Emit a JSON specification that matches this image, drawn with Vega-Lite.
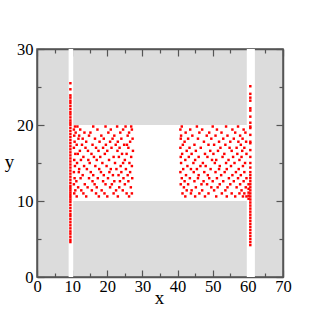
{
  "$schema": "https://vega.github.io/schema/vega-lite/v6.json",
  "width": 246,
  "height": 228,
  "autosize": "none",
  "padding": {"left": 37, "top": 49, "right": 35, "bottom": 49},
  "background": "white",
  "config": {
    "view": {"fill": "#dcdcdc", "stroke": "#555555", "strokeWidth": 1.5},
    "axis": {"labelFont": "Liberation Serif", "labelFontSize": 16.5, "titleFont": "Liberation Serif", "titleFontSize": 19, "titleFontWeight": "normal", "domainColor": "#555555", "domainWidth": 1.5, "tickColor": "#555555", "tickWidth": 1.2, "grid": false, "labelColor": "black", "titleColor": "black"}
  },
  "datasets": {
    "bg": [
      {"x1": 9, "x2": 10.3, "y1": 0, "y2": 30},
      {"x1": 59.7, "x2": 62, "y1": 0, "y2": 30},
      {"x1": 9, "x2": 59.7, "y1": 10, "y2": 20}
    ],
    "pts": [
      {"x":9.5,"y":4.6},{"x":9.5,"y":4.9},{"x":9.5,"y":5.3},{"x":9.5,"y":5.7},{"x":9.5,"y":6.0},{"x":9.5,"y":6.4},{"x":9.5,"y":6.8},{"x":9.5,"y":7.2},{"x":9.5,"y":7.6},{"x":9.5,"y":8.0},{"x":9.5,"y":8.3},{"x":9.5,"y":8.7},{"x":9.5,"y":9.1},{"x":9.5,"y":9.5},{"x":9.5,"y":9.9},{"x":9.5,"y":10.2},{"x":9.5,"y":10.5},{"x":9.5,"y":10.8},{"x":9.5,"y":11.1},{"x":9.5,"y":11.4},{"x":9.5,"y":11.7},{"x":9.5,"y":12.0},{"x":9.5,"y":12.4},{"x":9.5,"y":12.8},{"x":9.5,"y":13.2},{"x":9.5,"y":13.6},{"x":9.5,"y":14.0},{"x":9.5,"y":14.4},{"x":9.5,"y":14.8},{"x":9.5,"y":15.2},{"x":9.5,"y":15.6},{"x":9.5,"y":16.0},{"x":9.5,"y":16.4},{"x":9.5,"y":16.8},{"x":9.5,"y":17.2},{"x":9.5,"y":17.6},{"x":9.5,"y":18.0},{"x":9.5,"y":18.4},{"x":9.5,"y":18.8},{"x":9.5,"y":19.2},{"x":9.5,"y":19.6},{"x":9.5,"y":20.0},{"x":9.5,"y":20.3},{"x":9.5,"y":20.6},{"x":9.5,"y":21.0},{"x":9.5,"y":21.4},{"x":9.5,"y":21.7},{"x":9.5,"y":22.1},{"x":9.5,"y":22.5},{"x":9.5,"y":22.9},{"x":9.5,"y":23.2},{"x":9.5,"y":23.6},{"x":9.5,"y":23.9},{"x":9.5,"y":24.7},{"x":9.5,"y":25.5},
      {"x":60.7,"y":4.2},{"x":60.7,"y":4.6},{"x":60.7,"y":5.0},{"x":60.7,"y":5.4},{"x":60.7,"y":5.8},{"x":60.7,"y":6.2},{"x":60.7,"y":6.6},{"x":60.7,"y":7.0},{"x":60.7,"y":7.4},{"x":60.7,"y":7.8},{"x":60.7,"y":8.2},{"x":60.7,"y":8.6},{"x":60.7,"y":9.0},{"x":60.7,"y":9.4},{"x":60.7,"y":9.8},{"x":60.7,"y":10.2},{"x":60.7,"y":10.6},{"x":60.7,"y":11.0},{"x":60.7,"y":11.4},{"x":60.7,"y":11.8},{"x":60.7,"y":12.2},{"x":60.7,"y":12.6},{"x":60.7,"y":13.0},{"x":60.7,"y":13.4},{"x":60.7,"y":13.8},{"x":60.7,"y":14.4},{"x":60.7,"y":15.0},{"x":60.7,"y":15.8},{"x":60.7,"y":16.7},{"x":60.7,"y":17.6},{"x":60.7,"y":17.8},{"x":60.7,"y":18.7},{"x":60.7,"y":19.6},{"x":60.7,"y":19.8},{"x":60.7,"y":20.3},{"x":60.7,"y":21.1},{"x":60.7,"y":21.9},{"x":60.7,"y":22.2},{"x":60.7,"y":23.2},{"x":60.7,"y":23.6},{"x":60.7,"y":24.1},{"x":60.7,"y":25.1},
      {"x":60.2,"y":10.3},{"x":60.2,"y":10.7},{"x":60.2,"y":11.1},{"x":60.2,"y":11.6},{"x":60.2,"y":12.2},
      {"x":10.8,"y":19.8},{"x":11.5,"y":19.8},{"x":16.0,"y":19.8},{"x":19.5,"y":19.8},{"x":22.8,"y":19.8},{"x":25.2,"y":19.8},{"x":26.8,"y":19.8},
      {"x":10.5,"y":19.4},{"x":12.3,"y":19.4},{"x":17.2,"y":19.4},{"x":21.0,"y":19.4},{"x":24.5,"y":19.4},{"x":27.0,"y":19.4},
      {"x":11.0,"y":19.0},{"x":13.5,"y":19.0},{"x":15.2,"y":19.0},{"x":20.3,"y":19.0},{"x":23.7,"y":19.0},{"x":26.2,"y":19.0},
      {"x":10.6,"y":18.6},{"x":12.0,"y":18.6},{"x":14.8,"y":18.6},{"x":18.3,"y":18.6},{"x":22.0,"y":18.6},{"x":25.8,"y":18.6},
      {"x":11.8,"y":18.2},{"x":13.0,"y":18.2},{"x":16.5,"y":18.2},{"x":19.0,"y":18.2},{"x":21.5,"y":18.2},{"x":24.0,"y":18.2},{"x":27.2,"y":18.2},
      {"x":10.7,"y":17.8},{"x":14.0,"y":17.8},{"x":17.8,"y":17.8},{"x":20.8,"y":17.8},{"x":23.0,"y":17.8},{"x":26.5,"y":17.8},
      {"x":11.3,"y":17.4},{"x":12.8,"y":17.4},{"x":15.8,"y":17.4},{"x":19.6,"y":17.4},{"x":22.4,"y":17.4},{"x":24.8,"y":17.4},{"x":25.6,"y":17.4},
      {"x":10.5,"y":17.0},{"x":13.8,"y":17.0},{"x":16.8,"y":17.0},{"x":18.8,"y":17.0},{"x":21.2,"y":17.0},{"x":23.5,"y":17.0},{"x":26.0,"y":17.0},
      {"x":12.2,"y":16.6},{"x":14.5,"y":16.6},{"x":17.5,"y":16.6},{"x":20.0,"y":16.6},{"x":22.9,"y":16.6},{"x":27.3,"y":16.6},
      {"x":10.9,"y":16.2},{"x":11.6,"y":16.2},{"x":15.5,"y":16.2},{"x":19.3,"y":16.2},{"x":24.2,"y":16.2},{"x":25.5,"y":16.2},
      {"x":13.2,"y":15.8},{"x":16.2,"y":15.8},{"x":18.0,"y":15.8},{"x":21.8,"y":15.8},{"x":23.3,"y":15.8},{"x":26.8,"y":15.8},
      {"x":10.6,"y":15.4},{"x":12.5,"y":15.4},{"x":14.6,"y":15.4},{"x":17.0,"y":15.4},{"x":20.5,"y":15.4},{"x":25.0,"y":15.4},
      {"x":11.4,"y":15.0},{"x":15.0,"y":15.0},{"x":18.6,"y":15.0},{"x":22.2,"y":15.0},{"x":24.5,"y":15.0},{"x":26.3,"y":15.0},
      {"x":10.8,"y":14.6},{"x":13.4,"y":14.6},{"x":16.6,"y":14.6},{"x":19.8,"y":14.6},{"x":23.8,"y":14.6},{"x":27.0,"y":14.6},
      {"x":12.0,"y":14.2},{"x":14.2,"y":14.2},{"x":17.7,"y":14.2},{"x":21.0,"y":14.2},{"x":22.6,"y":14.2},{"x":25.3,"y":14.2},
      {"x":10.5,"y":13.8},{"x":11.9,"y":13.8},{"x":15.3,"y":13.8},{"x":18.2,"y":13.8},{"x":20.6,"y":13.8},{"x":24.0,"y":13.8},{"x":26.5,"y":13.8},
      {"x":13.0,"y":13.4},{"x":16.0,"y":13.4},{"x":19.0,"y":13.4},{"x":21.6,"y":13.4},{"x":23.2,"y":13.4},{"x":25.8,"y":13.4},
      {"x":10.7,"y":13.0},{"x":12.4,"y":13.0},{"x":14.8,"y":13.0},{"x":17.3,"y":13.0},{"x":20.2,"y":13.0},{"x":24.6,"y":13.0},{"x":27.1,"y":13.0},
      {"x":11.2,"y":12.6},{"x":15.8,"y":12.6},{"x":18.8,"y":12.6},{"x":22.0,"y":12.6},{"x":23.6,"y":12.6},{"x":26.0,"y":12.6},
      {"x":10.5,"y":12.2},{"x":13.6,"y":12.2},{"x":16.4,"y":12.2},{"x":19.5,"y":12.2},{"x":21.3,"y":12.2},{"x":25.0,"y":12.2},
      {"x":11.7,"y":11.8},{"x":14.4,"y":11.8},{"x":17.0,"y":11.8},{"x":20.8,"y":11.8},{"x":23.4,"y":11.8},{"x":26.7,"y":11.8},
      {"x":10.9,"y":11.4},{"x":12.6,"y":11.4},{"x":15.6,"y":11.4},{"x":18.4,"y":11.4},{"x":22.5,"y":11.4},{"x":24.4,"y":11.4},
      {"x":10.6,"y":11.0},{"x":13.2,"y":11.0},{"x":16.8,"y":11.0},{"x":19.2,"y":11.0},{"x":21.8,"y":11.0},{"x":25.5,"y":11.0},{"x":27.0,"y":11.0},
      {"x":11.3,"y":10.6},{"x":14.0,"y":10.6},{"x":17.6,"y":10.6},{"x":20.0,"y":10.6},{"x":23.0,"y":10.6},{"x":26.2,"y":10.6},
      {"x":41.2,"y":19.8},{"x":45.5,"y":19.8},{"x":50.0,"y":19.8},{"x":53.8,"y":19.8},{"x":57.2,"y":19.8},
      {"x":40.8,"y":19.4},{"x":43.6,"y":19.4},{"x":47.0,"y":19.4},{"x":51.2,"y":19.4},{"x":55.6,"y":19.4},{"x":58.8,"y":19.4},
      {"x":42.3,"y":19.0},{"x":46.2,"y":19.0},{"x":49.0,"y":19.0},{"x":52.5,"y":19.0},{"x":56.4,"y":19.0},{"x":59.3,"y":19.0},
      {"x":41.0,"y":18.6},{"x":44.2,"y":18.6},{"x":48.3,"y":18.6},{"x":50.8,"y":18.6},{"x":54.2,"y":18.6},{"x":57.8,"y":18.6},
      {"x":40.9,"y":18.2},{"x":43.0,"y":18.2},{"x":45.8,"y":18.2},{"x":49.6,"y":18.2},{"x":53.0,"y":18.2},{"x":56.0,"y":18.2},{"x":58.5,"y":18.2},
      {"x":42.0,"y":17.8},{"x":47.5,"y":17.8},{"x":51.8,"y":17.8},{"x":55.0,"y":17.8},{"x":57.3,"y":17.8},{"x":59.5,"y":17.8},
      {"x":41.5,"y":17.4},{"x":44.8,"y":17.4},{"x":48.8,"y":17.4},{"x":50.4,"y":17.4},{"x":53.6,"y":17.4},{"x":58.0,"y":17.4},
      {"x":40.8,"y":17.0},{"x":43.4,"y":17.0},{"x":46.6,"y":17.0},{"x":52.2,"y":17.0},{"x":54.8,"y":17.0},{"x":56.8,"y":17.0},{"x":59.0,"y":17.0},
      {"x":42.6,"y":16.6},{"x":45.2,"y":16.6},{"x":49.3,"y":16.6},{"x":51.5,"y":16.6},{"x":55.4,"y":16.6},{"x":58.4,"y":16.6},
      {"x":41.3,"y":16.2},{"x":44.0,"y":16.2},{"x":47.8,"y":16.2},{"x":50.2,"y":16.2},{"x":53.3,"y":16.2},{"x":57.0,"y":16.2},{"x":59.6,"y":16.2},
      {"x":40.9,"y":15.8},{"x":43.2,"y":15.8},{"x":46.0,"y":15.8},{"x":48.5,"y":15.8},{"x":52.8,"y":15.8},{"x":55.8,"y":15.8},{"x":58.2,"y":15.8},
      {"x":42.2,"y":15.4},{"x":45.0,"y":15.4},{"x":49.8,"y":15.4},{"x":51.0,"y":15.4},{"x":54.5,"y":15.4},{"x":57.6,"y":15.4},
      {"x":41.0,"y":15.0},{"x":44.5,"y":15.0},{"x":47.2,"y":15.0},{"x":50.6,"y":15.0},{"x":53.8,"y":15.0},{"x":56.2,"y":15.0},{"x":59.2,"y":15.0},
      {"x":42.8,"y":14.6},{"x":46.5,"y":14.6},{"x":48.0,"y":14.6},{"x":52.0,"y":14.6},{"x":55.2,"y":14.6},{"x":58.6,"y":14.6},
      {"x":41.6,"y":14.2},{"x":43.8,"y":14.2},{"x":45.5,"y":14.2},{"x":49.4,"y":14.2},{"x":51.8,"y":14.2},{"x":54.0,"y":14.2},{"x":57.4,"y":14.2},
      {"x":40.8,"y":13.8},{"x":44.6,"y":13.8},{"x":47.6,"y":13.8},{"x":50.8,"y":13.8},{"x":53.4,"y":13.8},{"x":56.6,"y":13.8},{"x":59.0,"y":13.8},
      {"x":42.4,"y":13.4},{"x":46.0,"y":13.4},{"x":48.6,"y":13.4},{"x":52.4,"y":13.4},{"x":55.6,"y":13.4},{"x":58.0,"y":13.4},
      {"x":41.2,"y":13.0},{"x":43.5,"y":13.0},{"x":45.8,"y":13.0},{"x":49.0,"y":13.0},{"x":51.2,"y":13.0},{"x":54.6,"y":13.0},{"x":57.2,"y":13.0},{"x":59.6,"y":13.0},
      {"x":42.0,"y":12.6},{"x":44.8,"y":12.6},{"x":47.4,"y":12.6},{"x":50.0,"y":12.6},{"x":53.0,"y":12.6},{"x":56.0,"y":12.6},{"x":58.8,"y":12.6},
      {"x":40.9,"y":12.2},{"x":43.0,"y":12.2},{"x":46.8,"y":12.2},{"x":48.4,"y":12.2},{"x":52.0,"y":12.2},{"x":55.0,"y":12.2},{"x":57.8,"y":12.2},
      {"x":41.8,"y":11.8},{"x":45.2,"y":11.8},{"x":49.6,"y":11.8},{"x":51.4,"y":11.8},{"x":54.2,"y":11.8},{"x":56.8,"y":11.8},{"x":59.4,"y":11.8},
      {"x":42.6,"y":11.4},{"x":44.0,"y":11.4},{"x":47.0,"y":11.4},{"x":50.4,"y":11.4},{"x":53.6,"y":11.4},{"x":58.2,"y":11.4},
      {"x":41.4,"y":11.0},{"x":43.8,"y":11.0},{"x":46.2,"y":11.0},{"x":48.8,"y":11.0},{"x":52.6,"y":11.0},{"x":55.4,"y":11.0},{"x":57.6,"y":11.0},{"x":59.0,"y":11.0},
      {"x":42.2,"y":10.6},{"x":45.0,"y":10.6},{"x":47.8,"y":10.6},{"x":51.0,"y":10.6},{"x":54.0,"y":10.6},{"x":56.4,"y":10.6},{"x":58.6,"y":10.6},{"x":59.6,"y":10.6}
    ]
  },
  "layer": [
    {
      "data": {"name": "bg"},
      "mark": {"type": "rect", "fill": "white"},
      "encoding": {
        "x": {"field": "x1", "type": "quantitative", "scale": {"domain": [0, 70], "nice": false, "zero": false},
          "axis": {"orient": "bottom", "title": "x", "values": [0,5,10,15,20,25,30,35,40,45,50,55,60,65,70], "labelExpr": "datum.value % 10 === 0 ? datum.label : ''", "tickSize": {"condition": {"test": "datum.value % 10 === 0", "value": -7}, "value": -4}, "labelPadding": 8, "labelFlush": false, "labelOverlap": false, "titleX": 122, "titleY": 20, "titleBaseline": "middle"}},
        "x2": {"field": "x2"},
        "y": {"field": "y1", "type": "quantitative", "scale": {"domain": [0, 30], "nice": false, "zero": false},
          "axis": {"orient": "left", "title": "y", "values": [0,5,10,15,20,25,30], "labelExpr": "datum.value % 10 === 0 ? datum.label : ''", "tickSize": {"condition": {"test": "datum.value % 10 === 0", "value": -7}, "value": -4}, "labelPadding": 11, "labelFlush": false, "labelOverlap": false, "titleAngle": 0, "titleX": -28, "titleY": 112, "titleAlign": "center", "titleBaseline": "middle"}},
        "y2": {"field": "y2"}
      }
    },
    {
      "data": {"name": "pts"},
      "mark": {"type": "square", "color": "#ff0000", "size": 6, "opacity": 1},
      "encoding": {
        "x": {"field": "x", "type": "quantitative", "scale": {"domain": [0, 70], "nice": false, "zero": false},
          "axis": {"orient": "top", "title": null, "labels": false, "values": [0,5,10,15,20,25,30,35,40,45,50,55,60,65,70], "tickSize": {"condition": {"test": "datum.value % 10 === 0", "value": -7}, "value": -4}}},
        "y": {"field": "y", "type": "quantitative", "scale": {"domain": [0, 30], "nice": false, "zero": false},
          "axis": {"orient": "right", "title": null, "labels": false, "values": [0,5,10,15,20,25,30], "tickSize": {"condition": {"test": "datum.value % 10 === 0", "value": -7}, "value": -4}}}
      }
    }
  ],
  "resolve": {"axis": {"x": "independent", "y": "independent"}}
}
